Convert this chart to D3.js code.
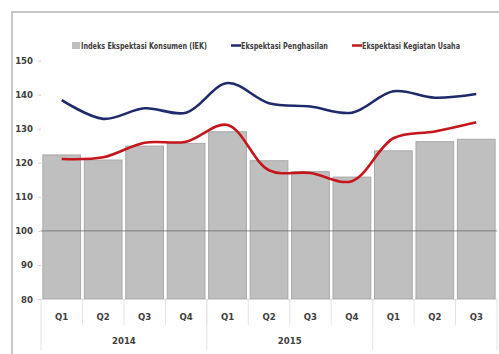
<!DOCTYPE html>
<html>
<head>
<meta charset="utf-8">
<script src="https://cdn.jsdelivr.net/npm/d3@7"></script>
<style>
  body { margin: 0; background: #fff; }
  text { font-family: "DejaVu Sans Condensed", "Liberation Sans Narrow", sans-serif; font-stretch: condensed; font-weight: bold; fill: #404040; }
</style>
</head>
<body>
<script>
// quarter categories and the year groups under them
var quarters = ["Q1", "Q2", "Q3", "Q4", "Q1", "Q2", "Q3", "Q4", "Q1", "Q2", "Q3"];
var yearLabels = ["2014", "2015", ""];
var yearSpans = [4, 4, 3];

// series values
var iek = [122.3, 120.8, 124.9, 125.7, 129.1, 120.6, 117.4, 115.8, 123.5, 126.2, 126.9];
var penghasilan = [138.4, 132.9, 136.0, 134.7, 143.4, 137.5, 136.5, 134.7, 141.0, 139.1, 140.2];
var kegiatan = [121.1, 121.6, 125.9, 126.2, 131.1, 117.8, 117.0, 114.6, 127.2, 129.2, 131.9];

var yTicks = [80, 90, 100, 110, 120, 130, 140, 150];

var legendNames = ["Indeks Ekspektasi Konsumen (IEK)", "Ekspektasi Penghasilan", "Ekspektasi Kegiatan Usaha"];

function drawChart()
{
var width = 499, height = 354;
var plotLeft = 41, plotRight = 497, plotTop = 60.6, plotBottom = 299;

var svg = d3.select("body").append("svg")
            .attr("width", width)
            .attr("height", height);

// outer frame of the chart area
svg.append("rect")
    .attr("x", 12)
    .attr("y", 12)
    .attr("width", 490)
    .attr("height", 360)
    .attr("fill", "#fff")
    .attr("stroke", "#c8c8c8")
    .attr("stroke-width", 2);

var idx = d3.range(quarters.length);

var x = d3.scaleBand()
          .domain(idx)
          .range([plotLeft, plotRight])
          .paddingInner(0.09)
          .paddingOuter(0.045);

var y = d3.scaleLinear()
          .domain([80, 150])
          .range([plotBottom, plotTop]);

// y axis labels
var yAxis = svg.append("g")
               .attr("transform", "translate(" + plotLeft + ",0)")
               .call(d3.axisLeft(y).tickValues(yTicks).tickSize(3).tickPadding(5));
yAxis.select(".domain").remove();
yAxis.selectAll(".tick line").attr("stroke", "#d0d0d0");
yAxis.selectAll(".tick text")
     .attr("font-size", 9.5)
     .attr("font-family", null)
     .attr("fill", "#404040");

// bars
svg.append("g").selectAll("rect")
    .data(idx)
    .join("rect")
    .attr("x", function(d) { return x(d); })
    .attr("y", function(d) { return y(iek[d]); })
    .attr("width", x.bandwidth())
    .attr("height", function(d) { return y(80) - y(iek[d]); })
    .attr("fill", "#bfbfbf")
    .attr("stroke", "#a9a9a9")
    .attr("stroke-width", 1);

// line at 100
svg.append("line")
    .attr("x1", plotLeft)
    .attr("x2", plotRight)
    .attr("y1", y(100))
    .attr("y2", y(100))
    .attr("stroke", "#6a6a6a")
    .attr("stroke-width", 0.8);

// x axis base
svg.append("line")
    .attr("x1", plotLeft)
    .attr("x2", plotRight)
    .attr("y1", y(80) + 0.5)
    .attr("y2", y(80) + 0.5)
    .attr("stroke", "#d8d8d8")
    .attr("stroke-width", 1);

var cx = function(d) { return x(d) + x.bandwidth() / 2; };
var step = x.step();
var edge = function(i) { return cx(0) - step / 2 + i * step; };

// smoothed lines
var line = d3.line()
             .x(function(d) { return cx(d[0]); })
             .y(function(d) { return y(d[1]); })
             .curve(d3.curveCatmullRom.alpha(0.5));

svg.append("path")
    .attr("d", line(idx.map(function(i) { return [i, penghasilan[i]]; })))
    .attr("fill", "none")
    .attr("stroke", "#1f2a6a")
    .attr("stroke-width", 2.6);

svg.append("path")
    .attr("d", line(idx.map(function(i) { return [i, kegiatan[i]]; })))
    .attr("fill", "none")
    .attr("stroke", "#c4161c")
    .attr("stroke-width", 2.6);

// category separators (short)
svg.append("g").selectAll("line")
    .data(d3.range(1, quarters.length))
    .join("line")
    .attr("x1", function(i) { return edge(i); })
    .attr("x2", function(i) { return edge(i); })
    .attr("y1", 300)
    .attr("y2", 325)
    .attr("stroke", "#e4e4e4")
    .attr("stroke-width", 1);

// year separators (long)
var cum = [0];
yearSpans.forEach(function(s, i) { cum.push(cum[i] + s); });
svg.append("g").selectAll("line")
    .data(cum)
    .join("line")
    .attr("x1", function(i) { return edge(i); })
    .attr("x2", function(i) { return edge(i); })
    .attr("y1", 300)
    .attr("y2", 350)
    .attr("stroke", "#e4e4e4")
    .attr("stroke-width", 1);

// quarter labels
svg.append("g").selectAll("text")
    .data(idx)
    .join("text")
    .attr("x", function(d) { return cx(d); })
    .attr("y", 320)
    .attr("text-anchor", "middle")
    .attr("font-size", 9.5)
    .text(function(d) { return quarters[d]; });

// year labels
svg.append("g").selectAll("text")
    .data(yearLabels)
    .join("text")
    .attr("x", function(d, i) { return (edge(cum[i]) + edge(cum[i + 1])) / 2; })
    .attr("y", 344)
    .attr("text-anchor", "middle")
    .attr("font-size", 9.5)
    .text(function(d) { return d; });

// legend
var legend = svg.append("g");
legend.append("rect")
    .attr("x", 72)
    .attr("y", 42)
    .attr("width", 8)
    .attr("height", 7)
    .attr("fill", "#bfbfbf");
legend.append("text")
    .attr("x", 81)
    .attr("y", 49)
    .attr("font-size", 9.5)
    .attr("textLength", 126)
    .attr("lengthAdjust", "spacingAndGlyphs")
    .text(legendNames[0]);

legend.append("line")
    .attr("x1", 231).attr("x2", 241)
    .attr("y1", 45.5).attr("y2", 45.5)
    .attr("stroke", "#1f2a6a")
    .attr("stroke-width", 2.5);
legend.append("text")
    .attr("x", 241)
    .attr("y", 49)
    .attr("font-size", 9.5)
    .attr("textLength", 87)
    .attr("lengthAdjust", "spacingAndGlyphs")
    .text(legendNames[1]);

legend.append("line")
    .attr("x1", 352).attr("x2", 362)
    .attr("y1", 45.5).attr("y2", 45.5)
    .attr("stroke", "#c4161c")
    .attr("stroke-width", 2.5);
legend.append("text")
    .attr("x", 362)
    .attr("y", 49)
    .attr("font-size", 9.5)
    .attr("textLength", 98)
    .attr("lengthAdjust", "spacingAndGlyphs")
    .text(legendNames[2]);

return svg;
}

drawChart();
</script>
</body>
</html>
